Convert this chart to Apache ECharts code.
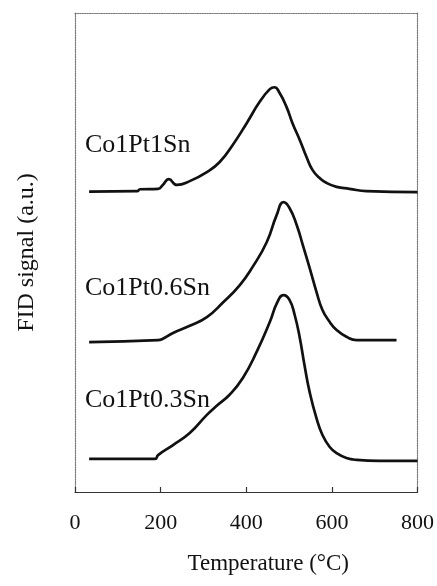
<!DOCTYPE html>
<html>
<head>
<meta charset="utf-8">
<script src="https://cdn.jsdelivr.net/npm/echarts@6/dist/echarts.min.js"></script>
<style>
html,body{margin:0;padding:0;background:#fff;}
#chart{width:437px;height:586px;}
</style>
</head>
<body>
<div id="chart"></div>
<script>
// Temperature (°C) and FID signal (arbitrary units, curves offset vertically)
var temp1 = [33,145,152,194,205,219,238,268,308,338,368,401,431,455,466,478,494,508,525,541,555,571,588,611,641,681,800];
var sig1  = [62.7,62.8,63.2,63.3,64.1,65.3,64.1,64.9,66.8,68.9,72.4,77.0,81.4,84.1,84.5,83.3,80.4,77.0,73.5,69.9,67.2,65.6,64.5,63.7,63.3,62.8,62.6];

var temp2 = [33,194,203,229,268,308,345,385,415,448,471,487,501,518,532,548,564,578,595,611,634,658,751];
var sig2  = [31.3,31.7,31.9,33.2,34.7,36.5,39.5,43.2,47.0,52.2,57.8,60.5,59.3,55.7,51.6,46.8,41.8,38.0,35.5,33.8,32.4,31.7,31.7];

var temp3 = [33,187,194,229,268,308,331,361,392,424,455,473,487,501,513,525,536,548,564,578,595,611,634,658,711,800];
var sig3  = [6.9,6.9,7.7,9.8,12.3,16.1,18.0,20.3,23.8,29.2,35.5,39.7,41.1,40.1,37.0,32.2,26.5,20.9,15.4,11.9,9.4,8.1,7.1,6.7,6.5,6.5];

var seriesNames = ['Co1Pt1Sn','Co1Pt0.6Sn','Co1Pt0.3Sn'];
var xTicks = [0,200,400,600,800];

function pairs(xs, ys){ return xs.map(function(x,i){ return [x, ys[i]]; }); }

var chart = echarts.init(document.getElementById('chart'));
var font = 'Liberation Serif';
var lineStyle = {color:'#111', width:2.7};
var frameLine = {show:true, onZero:false, lineStyle:{color:'#777', width:1.2, type:'dotted'}};

chart.setOption({
  animation:false,
  backgroundColor:'#fff',
  grid:{left:75, right:19, top:13, bottom:94, show:false},
  xAxis:[{
    type:'value', min:xTicks[0], max:xTicks[xTicks.length-1], interval:200, position:'bottom',
    axisLine:{show:true, onZero:false, lineStyle:{color:'#333', width:1.2}},
    axisTick:{show:true, inside:true, length:5, lineStyle:{color:'#333', width:1.2}},
    axisLabel:{show:true, margin:20, fontFamily:font, fontSize:22, color:'#111'},
    splitLine:{show:false},
    name:'Temperature (°C)', nameLocation:'middle', nameGap:60,
    nameTextStyle:{fontFamily:font, fontSize:23, color:'#111', padding:[0,0,0,44]}
  },{
    type:'value', min:0, max:800, position:'top',
    axisLine:frameLine, axisTick:{show:false}, axisLabel:{show:false}, splitLine:{show:false}
  }],
  yAxis:[{
    type:'value', min:0, max:100, position:'left',
    axisLine:frameLine, axisTick:{show:false}, axisLabel:{show:false}, splitLine:{show:false},
    name:'FID signal (a.u.)', nameLocation:'middle', nameGap:36, nameRotate:90,
    nameTextStyle:{fontFamily:font, fontSize:24, color:'#111'}
  },{
    type:'value', min:0, max:100, position:'right',
    axisLine:frameLine, axisTick:{show:false}, axisLabel:{show:false}, splitLine:{show:false}
  }],
  series:[
    {name:seriesNames[0], type:'line', data:pairs(temp1,sig1), smooth:0.5, showSymbol:false, lineStyle:lineStyle},
    {name:seriesNames[1], type:'line', data:pairs(temp2,sig2), smooth:0.5, showSymbol:false, lineStyle:lineStyle},
    {name:seriesNames[2], type:'line', data:pairs(temp3,sig3), smooth:0.5, showSymbol:false, lineStyle:lineStyle}
  ],
  graphic:[
    {type:'text', left:85, top:132, style:{text:seriesNames[0], font:'26px "Liberation Serif"', fill:'#111'}},
    {type:'text', left:85, top:275, style:{text:seriesNames[1], font:'26px "Liberation Serif"', fill:'#111'}},
    {type:'text', left:85, top:387, style:{text:seriesNames[2], font:'26px "Liberation Serif"', fill:'#111'}}
  ]
});
</script>
</body>
</html>
